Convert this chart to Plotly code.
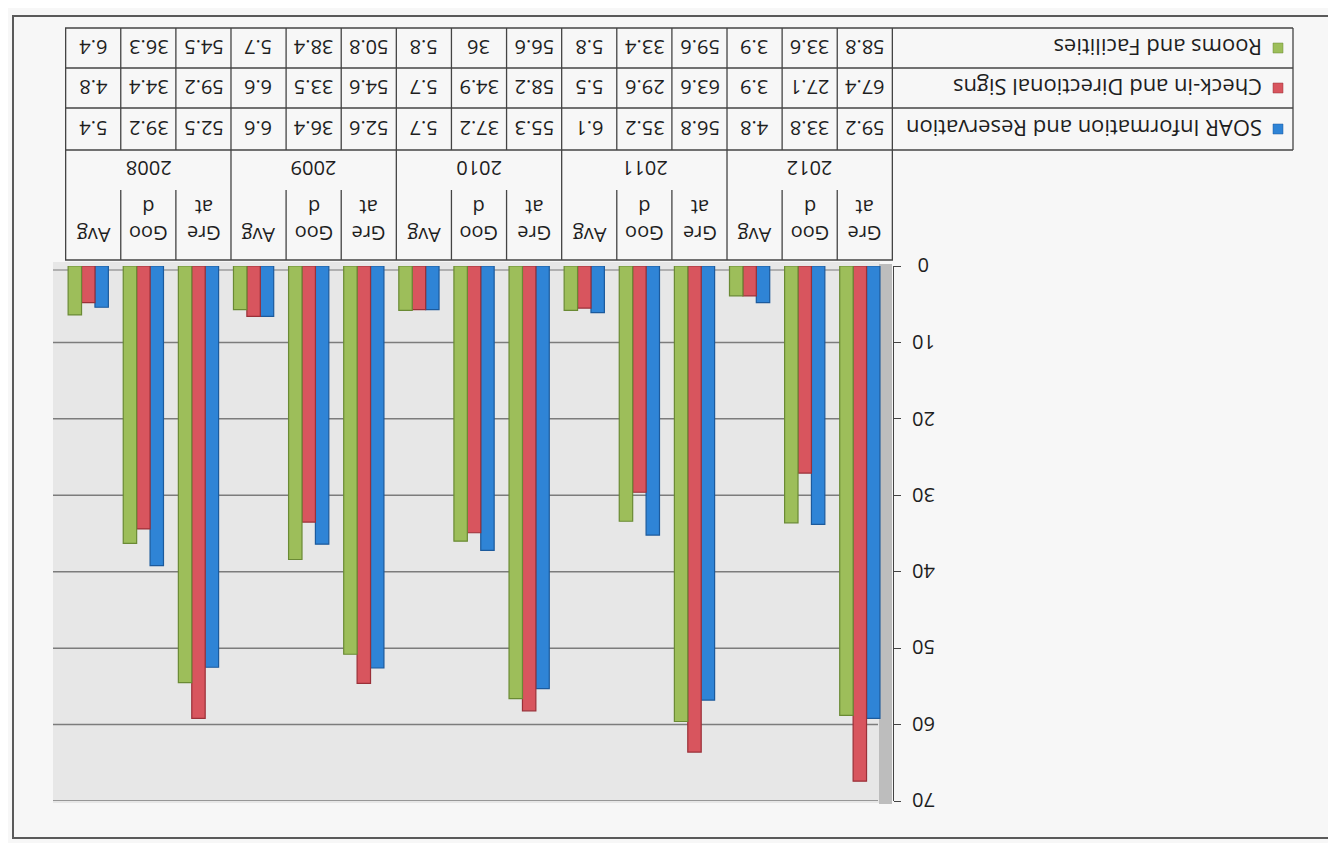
import plotly.graph_objects as go

# ---------------- data ----------------
years = ["2012", "2011", "2010", "2009", "2008"]
levels = ["Great", "Good", "Avg"]
level_labels = ["Gre<br>at", "Goo<br>d", "Avg"]

series_names = ["SOAR Information and Reservation",
                "Check-in and Directional Signs",
                "Rooms and Facilities"]
soar = [59.2, 33.8, 4.8, 56.8, 35.2, 6.1, 55.3, 37.2, 5.7, 52.6, 36.4, 6.6, 52.5, 39.2, 5.4]
checkin = [67.4, 27.1, 3.9, 63.6, 29.6, 5.5, 58.2, 34.9, 5.7, 54.6, 33.5, 6.6, 59.2, 34.4, 4.8]
rooms = [58.8, 33.6, 3.9, 59.6, 33.4, 5.8, 56.6, 36, 5.8, 50.8, 38.4, 5.7, 54.5, 36.3, 6.4]
y_ticks = [0, 10, 20, 30, 40, 50, 60, 70]

colors = ["#2f84d6", "#d8555e", "#9dbe5a"]
edge_colors = ["#1c5a9c", "#9a3038", "#6a8a34"]

categories = [f"{y} {l}" for y in years for l in levels]
series_values = [soar, checkin, rooms]

# ---------------- layout geometry (pixels) ----------------
W, H = 1336, 843
PL, PR = 57, 885          # plot area left/right
PT, PB = 258, 793         # plot area top (value 0) / bottom (value 70)
FONT = "'Open Sans', Lato, 'Liberation Sans', sans-serif"
FS = 20
TXT = "#1e1e1e"


def px(x):
    return (x - PL) / (PR - PL)


def py(y):
    return (PB - y) / (PB - PT)


# bar geometry in category units (3D perspective shifts bars slightly off column centre)
bargap = 0.27
bw = (1 - bargap) / 3
shift = 0.09
fig = go.Figure()
for k, (name, vals, c, ec) in enumerate(zip(series_names, series_values, colors, edge_colors)):
    fig.add_trace(go.Bar(x=categories, y=vals, name=name,
                         width=bw, offset=-(1 - bargap) / 2 + k * bw + shift,
                         marker=dict(color=c, line=dict(color=ec, width=1.2)),
                         showlegend=False))

shapes = []
annotations = []

# outer chart border
shapes.append(dict(type="rect", xref="paper", yref="paper",
                   x0=px(5), x1=px(1326), y0=py(830), y1=py(8),
                   line=dict(color="#5a5a5a", width=2), fillcolor="rgba(0,0,0,0)", layer="below"))
# plot background
shapes.append(dict(type="rect", xref="paper", yref="paper",
                   x0=px(45), x1=px(872), y0=py(795), y1=py(254),
                   line=dict(width=0), fillcolor="#e7e7e7", layer="below"))
# side wall
shapes.append(dict(type="rect", xref="paper", yref="paper",
                   x0=px(871), x1=px(884), y0=py(796), y1=py(256),
                   line=dict(width=0), fillcolor="#bdbdbd", layer="below"))
# floor edge
shapes.append(dict(type="line", xref="paper", yref="paper",
                   x0=px(45), x1=px(872), y0=py(262), y1=py(262),
                   line=dict(color="#b0b0b0", width=2), layer="below"))
# gridlines
for t in y_ticks[1:]:
    shapes.append(dict(type="line", xref="paper", yref="y",
                       x0=px(45), x1=px(870), y0=t, y1=t,
                       line=dict(color="#7c7c7c", width=1.5), layer="below"))
# y tick labels (rotated, like the reference)
for t in y_ticks:
    annotations.append(dict(x=px(916), y=t, xref="paper", yref="y",
                            text=str(t), showarrow=False, textangle=180,
                            font=dict(family=FONT, size=FS, color=TXT),
                            xanchor="center", yanchor="middle"))

# ---------------- data table (drawn rotated like the reference) ----------------
LINE = dict(color="#444444", width=1.3)
row_edges = [20, 60, 100, 142]
n = len(categories)
for r in row_edges:
    shapes.append(dict(type="line", xref="paper", yref="paper",
                       x0=px(PL), x1=px(1285), y0=py(r), y1=py(r), line=LINE))
shapes.append(dict(type="line", xref="paper", yref="paper",
                   x0=px(PL), x1=px(PR), y0=py(252), y1=py(252), line=LINE))
shapes.append(dict(type="line", xref="paper", yref="paper",
                   x0=px(1285), x1=px(1285), y0=py(20), y1=py(142), line=LINE))
for k in range(n + 1):
    xk = k - 0.5
    if k % 3 == 0:
        shapes.append(dict(type="line", xref="x", yref="paper",
                           x0=xk, x1=xk, y0=py(20), y1=py(252), line=LINE))
    else:
        shapes.append(dict(type="line", xref="x", yref="paper",
                           x0=xk, x1=xk, y0=py(20), y1=py(142), line=LINE))
        shapes.append(dict(type="line", xref="x", yref="paper",
                           x0=xk, x1=xk, y0=py(182), y1=py(252), line=LINE))

row_centers = {0: 121, 1: 80, 2: 40}   # SOAR, Check-in, Rooms
for si, vals in enumerate(series_values):
    yc = row_centers[si]
    for i, v in enumerate(vals):
        annotations.append(dict(x=i, y=py(yc), xref="x", yref="paper",
                                text=f"{v:g}", showarrow=False, textangle=180,
                                font=dict(family=FONT, size=FS, color=TXT),
                                xanchor="center", yanchor="middle"))
    annotations.append(dict(x=px(1256), y=py(yc), xref="paper", yref="paper",
                            text=series_names[si], showarrow=False, textangle=180,
                            font=dict(family=FONT, size=22, color=TXT),
                            xanchor="right", yanchor="middle"))
    shapes.append(dict(type="rect", xref="paper", yref="paper",
                       x0=px(1265), x1=px(1275), y0=py(yc + 5), y1=py(yc - 5),
                       fillcolor=colors[si], line=dict(color=edge_colors[si], width=0.5)))

for g, yr in enumerate(years):
    annotations.append(dict(x=g * 3 + 1, y=py(161), xref="x", yref="paper",
                            text=yr, showarrow=False, textangle=180,
                            font=dict(family=FONT, size=FS, color=TXT),
                            xanchor="center", yanchor="middle"))
for i in range(n):
    lab = level_labels[i % 3]
    yc = 213 if "<br>" in lab else 228
    annotations.append(dict(x=i, y=py(yc), xref="x", yref="paper",
                            text=lab, showarrow=False, textangle=180,
                            font=dict(family=FONT, size=FS, color=TXT),
                            xanchor="center", yanchor="middle"))

fig.update_layout(
    width=W, height=H,
    margin=dict(l=PL, r=W - PR, t=PT, b=H - PB, pad=0),
    paper_bgcolor="#f7f7f7",
    plot_bgcolor="rgba(0,0,0,0)",
    barmode="group",
    showlegend=False,
    shapes=shapes,
    annotations=annotations,
    xaxis=dict(type="category", categoryorder="array", categoryarray=categories,
               autorange="reversed", showticklabels=False, showgrid=False,
               zeroline=False, showline=False, ticks=""),
    yaxis=dict(range=[70, 0], side="right", tickvals=y_ticks, showticklabels=False,
               ticks="outside", ticklen=7, tickwidth=1.3, tickcolor="#444444",
               showline=True, linecolor="#444444", linewidth=1.3,
               showgrid=False, zeroline=False),
)

fig.write_html("out.html")
